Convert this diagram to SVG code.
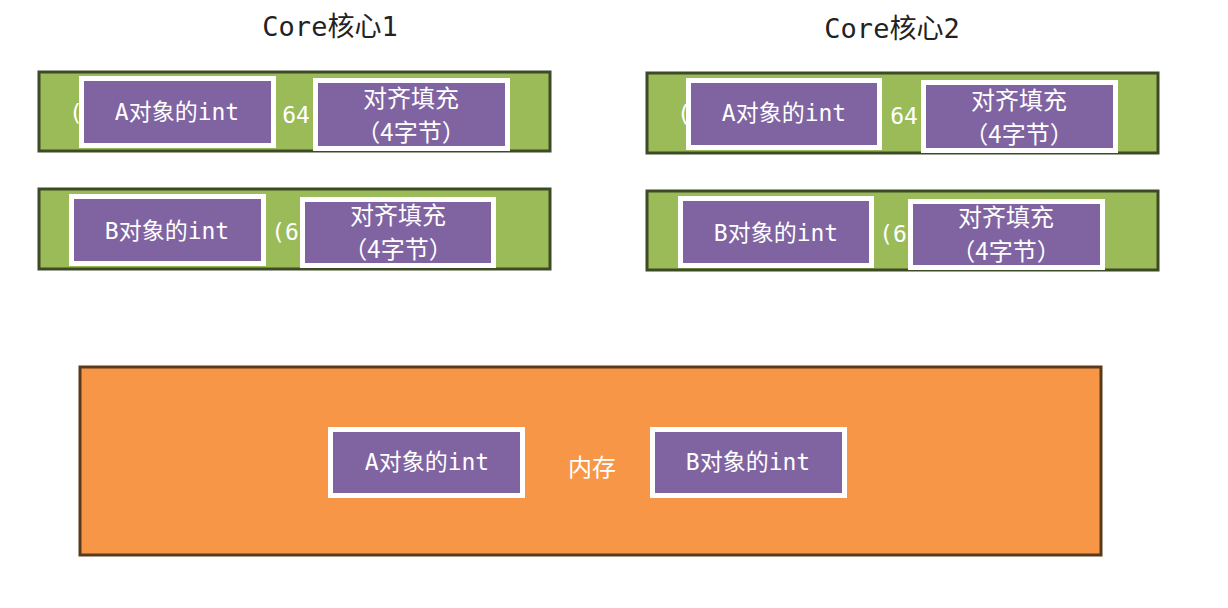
<svg xmlns="http://www.w3.org/2000/svg" width="1228" height="608" viewBox="0 0 1228 608">
<style>
.bar{fill:#9BBB59;stroke:#3d4a26;stroke-width:3}
.box{fill:#8064A2;stroke:#fff;stroke-width:5}
.t{font-family:"DejaVu Sans Mono","Noto Sans CJK SC",monospace;fill:#fff;font-size:23px;text-anchor:middle}
.p{font-family:"Noto Sans CJK SC",sans-serif;fill:#fff;font-size:24px;text-anchor:middle}
.h{font-family:"DejaVu Sans Mono","Noto Sans CJK SC",monospace;fill:#222;font-size:27px;text-anchor:middle}
</style>
<rect width="1228" height="608" fill="#fff"/>
<text class="h" x="330" y="36">Core核心1</text>
<text class="h" x="892" y="38">Core核心2</text>
<g id="core1">
<rect class="bar" x="39" y="72" width="511" height="79"/>
<text class="t" x="76" y="121" font-size="28">(</text><text class="t" x="296" y="123" font-size="28">64</text>
<rect class="box" x="81.500" y="78.500" width="192" height="67"/>
<text class="t" x="177" y="120">A对象的int</text>
<rect class="box" x="315.500" y="80.500" width="192" height="68"/>
<text class="p" x="411" y="107">对齐填充</text><text class="p" x="411" y="141">（4字节）</text>
<rect class="bar" x="39" y="189" width="511" height="80"/>
<text class="t" x="285" y="240" font-size="28">(6</text>
<rect class="box" x="71.500" y="196.500" width="192" height="67"/>
<text class="t" x="167" y="239">B对象的int</text>
<rect class="box" x="302.500" y="199.500" width="191" height="66"/>
<text class="p" x="398" y="224">对齐填充</text><text class="p" x="398" y="258">（4字节）</text>
</g>
<g id="core2">
<rect class="bar" x="647" y="73" width="511" height="80"/>
<text class="t" x="684" y="122" font-size="28">(</text><text class="t" x="904" y="124" font-size="28">64</text>
<rect class="box" x="688.500" y="80.500" width="191" height="67"/>
<text class="t" x="784" y="121">A对象的int</text>
<rect class="box" x="923.500" y="82.500" width="192" height="68"/>
<text class="p" x="1019" y="109">对齐填充</text><text class="p" x="1019" y="143">（4字节）</text>
<rect class="bar" x="647" y="191" width="511" height="79"/>
<text class="t" x="893" y="242" font-size="28">(6</text>
<rect class="box" x="680.500" y="198.500" width="191" height="67"/>
<text class="t" x="776" y="241">B对象的int</text>
<rect class="box" x="910.500" y="201.500" width="192" height="66"/>
<text class="p" x="1006" y="226">对齐填充</text><text class="p" x="1006" y="260">（4字节）</text>
</g>
<g id="memory">
<rect x="80" y="367" width="1021" height="188" fill="#F79646" stroke="#5a3a1a" stroke-width="3"/>
<rect class="box" x="330.500" y="429.500" width="192" height="66"/>
<text class="t" x="427" y="470">A对象的int</text>
<text class="p" x="592" y="476" font-size="36">内存</text>
<rect class="box" x="652.500" y="429.500" width="192" height="66"/>
<text class="t" x="748" y="470">B对象的int</text>
</g>
<g id="connectors"/>
</svg>
